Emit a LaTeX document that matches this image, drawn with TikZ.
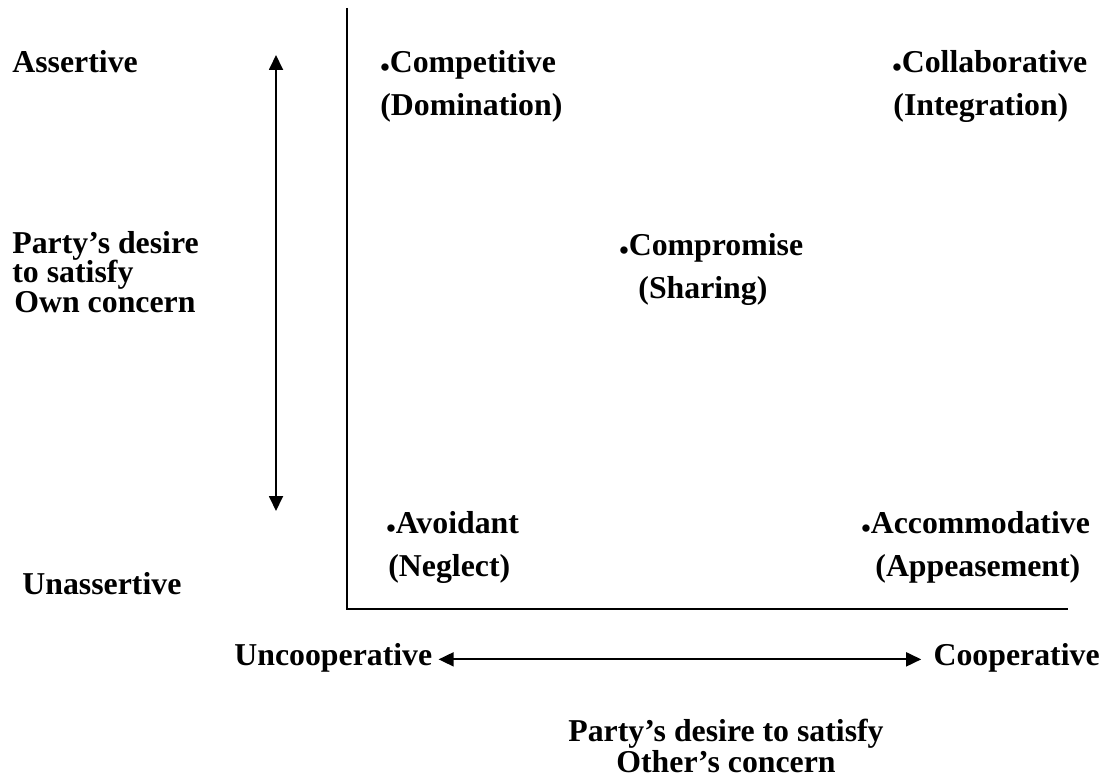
\documentclass[tikz,border=0pt]{standalone}
\usepackage{fontspec}
\setmainfont{Liberation Serif}
\usetikzlibrary{arrows.meta}
\tikzset{
  lbl/.style={font=\fontsize{15.9}{15}\selectfont\bfseries, inner sep=0pt, anchor=base west},
  axis/.style={line width=1pt},
  dblarrow/.style={line width=0.9pt, {Triangle[length=7.5pt,width=7pt]}-{Triangle[length=7.5pt,width=7pt]}}
}
\newcommand{\dotmark}{\raisebox{-2pt}{\fontsize{13.5}{13.5}\selectfont\textbullet}}
\begin{document}
\begin{tikzpicture}[x=0.5pt, y=-0.5pt]
    \useasboundingbox (0, 0) rectangle (1111, 780);
    \begin{scope}
      % axes
      \coordinate (origin) at (347, 609);
      \coordinate (ytop) at (347, 8);
      \coordinate (xend) at (1068, 609);
      \draw[axis] (ytop) -- (origin) -- (xend);

      % vertical scale
      \node[lbl] (assertive) at (12, 73) {Assertive};
      \node[lbl] (unassertive) at (22, 594) {Unassertive};
      \node[lbl] (own1) at (12, 254) {Party's desire};
      \node[lbl] (own2) at (12, 283) {to satisfy};
      \node[lbl] (own3) at (14, 312) {Own concern};
      \coordinate (vtop) at (276, 55);
      \coordinate (vbot) at (276, 511);
      \draw[dblarrow] (vbot) -- (vtop);

      % horizontal scale
      \node[lbl] (uncoop) at (234, 665) {Uncooperative};
      \node[lbl, anchor=base east] (coop) at (1100, 665) {Cooperative};
      \draw[dblarrow] ([xshift=3pt,yshift=-1pt]uncoop.east) -- ([xshift=-6pt,yshift=-1pt]coop.west);
      \node[lbl, anchor=base] (other1) at (726, 741) {Party's desire to satisfy};
      \node[lbl, anchor=base] (other2) at (726, 772) {Other's concern};

      % styles
      \node[lbl] (comp) at (380, 73) {\dotmark Competitive};
      \node[lbl] (dom) at (380, 116) {(Domination)};
      \node[lbl] (coll) at (892, 73) {\dotmark Collaborative};
      \node[lbl] (integ) at (893, 116) {(Integration)};
      \node[lbl] (compro) at (619, 256) {\dotmark Compromise};
      \node[lbl] (share) at (638, 299) {(Sharing)};
      \node[lbl] (avoid) at (386, 533) {\dotmark Avoidant};
      \node[lbl] (negl) at (388, 576) {(Neglect)};
      \node[lbl] (accom) at (861, 533) {\dotmark Accommodative};
      \node[lbl] (appease) at (875, 576) {(Appeasement)};
    \end{scope}
  \end{tikzpicture}
\end{document}
